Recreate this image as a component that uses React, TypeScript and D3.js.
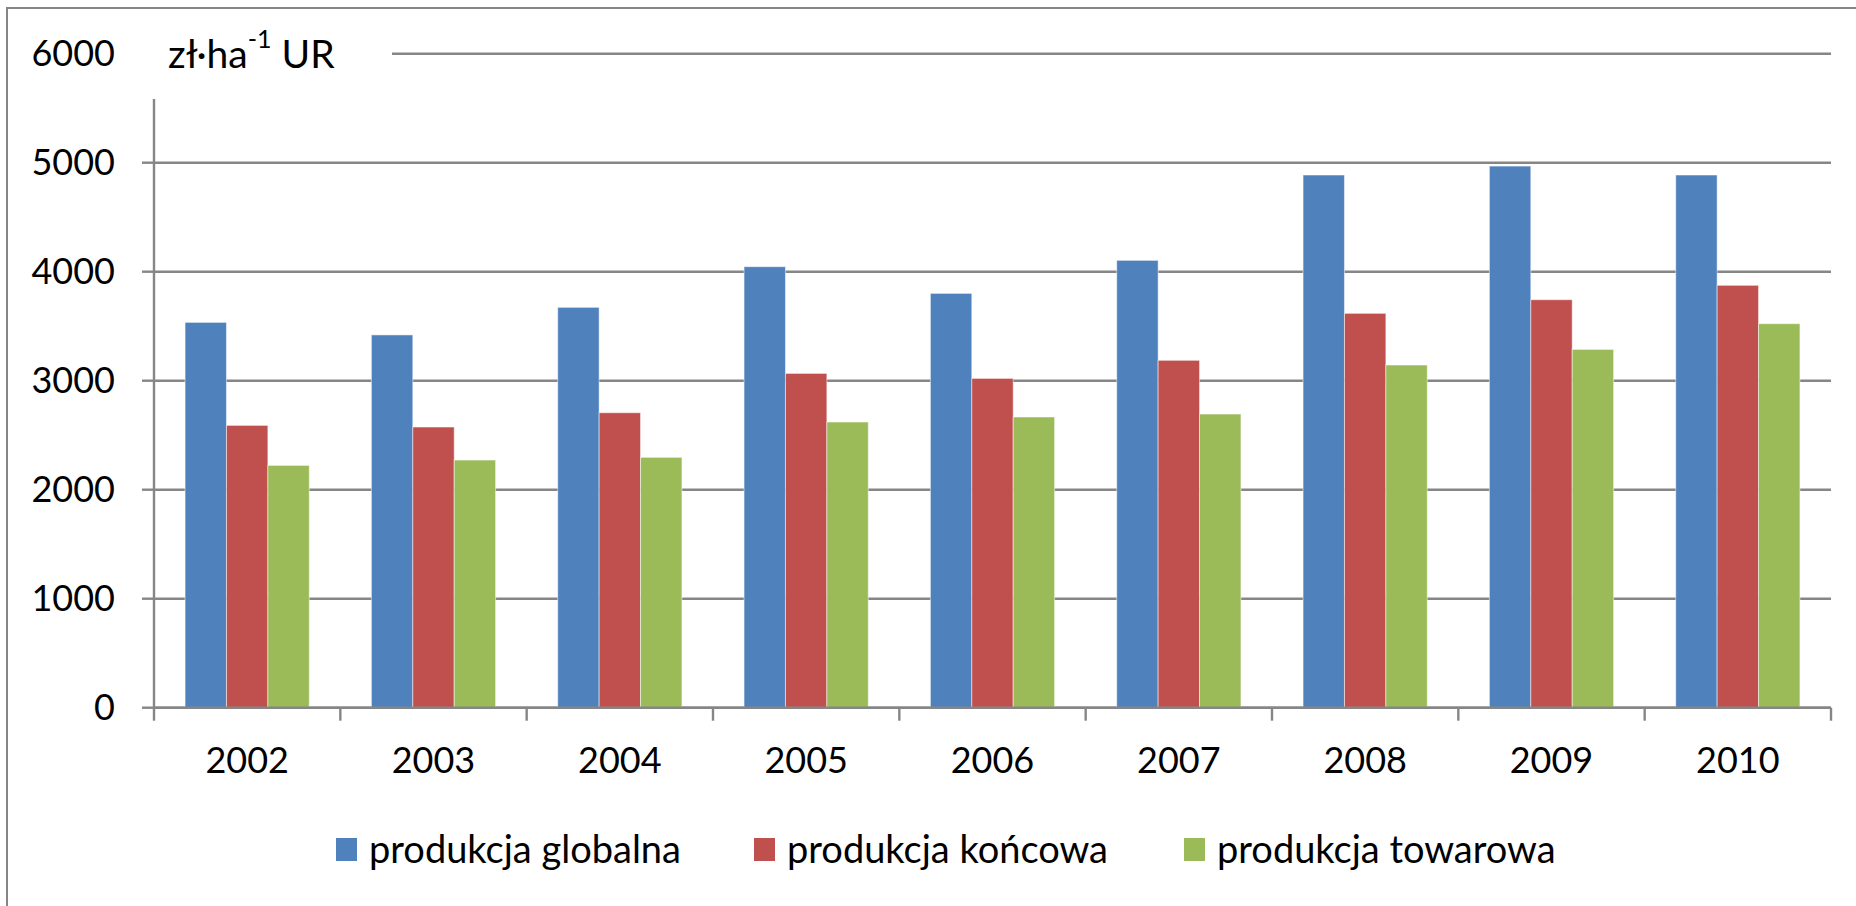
import React from 'react';
import * as d3 from 'd3';

const years = ['2002', '2003', '2004', '2005', '2006', '2007', '2008', '2009', '2010'];
const seriesNames = ['produkcja globalna', 'produkcja końcowa', 'produkcja towarowa'];
const globalna = [3535, 3420, 3673, 4046, 3801, 4104, 4887, 4969, 4887];
const koncowa = [2590, 2575, 2706, 3067, 3021, 3187, 3618, 3743, 3875];
const towarowa = [2223, 2272, 2297, 2621, 2667, 2694, 3144, 3287, 3523];
const yTicks = [0, 1000, 2000, 3000, 4000, 5000, 6000];
const colors = ['#4F81BD', '#C0504D', '#9BBB59'];

const W = 1856;
const H = 906;
const FONT = 'Lato, "Open Sans", sans-serif';

export default function App() {
  const values = [globalna, koncowa, towarowa];

  // plot area
  const left = 154;
  const right = 1831;
  const top = 53.7;
  const bottom = 707.7;

  const x = d3.scaleBand<string>().domain(years).range([left, right]).padding(0);
  const inner = d3
    .scaleBand<string>()
    .domain(seriesNames)
    .range([0, x.bandwidth()])
    .paddingInner(0)
    .paddingOuter(0.75);
  const y = d3.scaleLinear().domain([0, 6000]).range([bottom, top]);

  const grid = '#868686';

  return (
    <svg width={W} height={H} style={{ position: 'absolute', left: 0, top: 0 }} fontFamily={FONT}>
      <rect width={W} height={H} fill="#fff" />
      {/* chart frame (cut off right and bottom) */}
      <rect x={7} y={8} width={W + 20} height={H + 20} fill="none" stroke={grid} strokeWidth={2} />

      {/* gridlines */}
      {yTicks.map((t) => (
        <line key={t} x1={left} x2={right} y1={y(t)} y2={y(t)} stroke={grid} strokeWidth={2.4} />
      ))}
      {/* y ticks */}
      {yTicks.map((t) => (
        <line key={'yt' + t} x1={left - 12} x2={left} y1={y(t)} y2={y(t)} stroke={grid} strokeWidth={2.4} />
      ))}
      {/* y axis */}
      <line x1={left} x2={left} y1={top} y2={bottom} stroke={grid} strokeWidth={2.4} />

      {/* bars */}
      {years.map((yr, i) => (
        <g key={yr} transform={`translate(${x(yr)},0)`}>
          {seriesNames.map((s, j) => (
            <rect
              key={s}
              x={inner(s)}
              y={y(values[j][i])}
              width={inner.bandwidth()}
              height={y(0) - y(values[j][i])}
              fill={colors[j]}
              stroke="rgba(255,255,255,0.5)"
              strokeWidth={1}
            />
          ))}
        </g>
      ))}

      {/* x axis */}
      <line x1={left} x2={right} y1={bottom} y2={bottom} stroke={grid} strokeWidth={2.6} />
      {[...years.map((yr) => x(yr)!), right].map((v, i) => (
        <line key={'xt' + i} x1={v} x2={v} y1={bottom} y2={bottom + 13} stroke={grid} strokeWidth={2.4} />
      ))}

      {/* unit label box covers the top of the axis */}
      <rect x={128} y={20} width={264} height={79} fill="#fff" />
      <text x={168} y={68} fontSize={39} fill="#000">
        zł·ha
        <tspan fontSize={25} dy={-20}>-1</tspan>
        <tspan dy={20}> UR</tspan>
      </text>

      {/* y tick labels */}
      {yTicks.map((t) => (
        <text key={'yl' + t} x={115} y={y(t)} dy="0.35em" textAnchor="end" fontSize={36} fill="#000">
          {t}
        </text>
      ))}

      {/* x tick labels */}
      {years.map((yr) => (
        <text
          key={'xl' + yr}
          x={x(yr)! + x.bandwidth() / 2}
          y={760}
          dy="0.35em"
          textAnchor="middle"
          fontSize={36}
          fill="#000"
        >
          {yr}
        </text>
      ))}

      {/* legend */}
      {seriesNames.map((s, j) => {
        const lx = [336, 754, 1184][j];
        return (
          <g key={'lg' + s}>
            <rect x={lx} y={838} width={21} height={23} fill={colors[j]} />
            <text x={lx + 33} y={850} dy="0.35em" fontSize={38} fill="#000">
              {s}
            </text>
          </g>
        );
      })}
    </svg>
  );
}
